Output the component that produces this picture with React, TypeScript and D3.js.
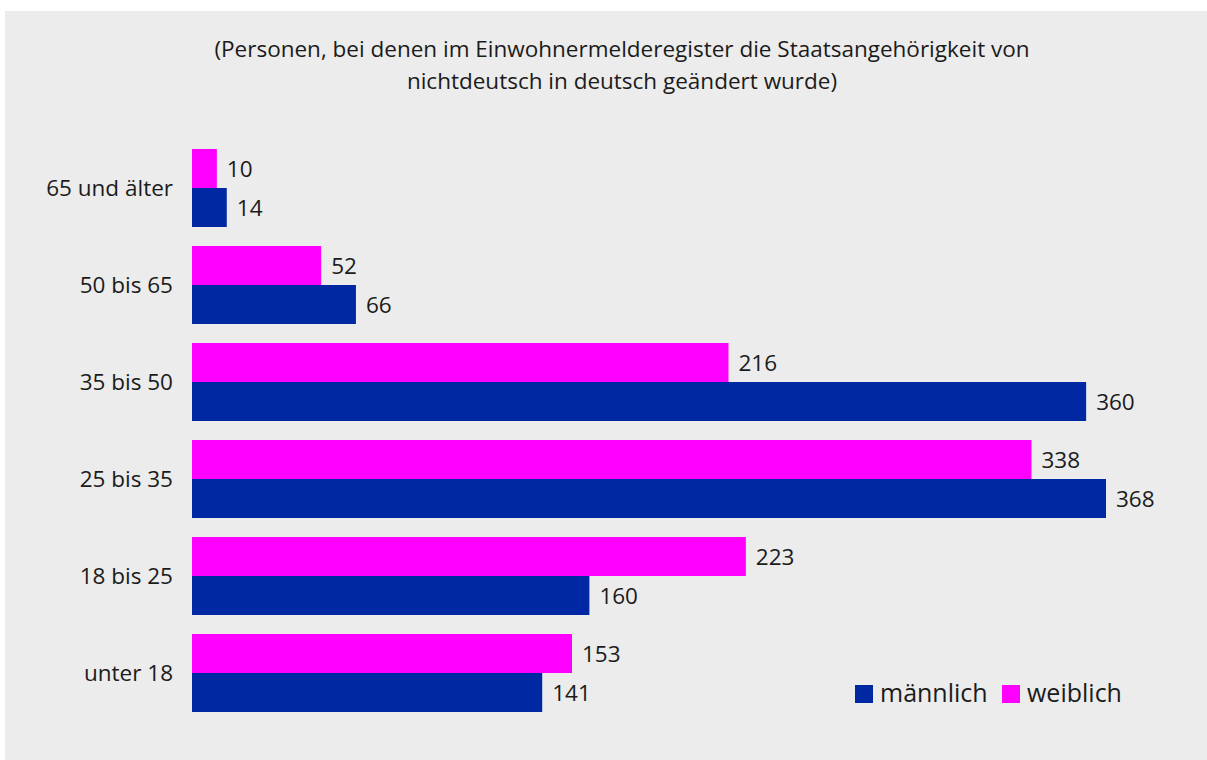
import React from "react";
import * as d3 from "d3";

const categories = ["65 und älter", "50 bis 65", "35 bis 50", "25 bis 35", "18 bis 25", "unter 18"];
const weiblich = [10, 52, 216, 338, 223, 153];
const maennlich = [14, 66, 360, 368, 160, 141];
const titleLines = [
  "(Personen, bei denen im Einwohnermelderegister die Staatsangehörigkeit von",
  "nichtdeutsch in deutsch geändert wurde)",
];
const legendItems = [
  { label: "männlich", color: "#0028a3" },
  { label: "weiblich", color: "#ff00ff" },
];

const W = 1207;
const H = 760;
const FONT = "'Open Sans', sans-serif";
const TEXT = "#1b1b1b";
const FS = 22.5;

export default function App() {
  const x = d3.scaleLinear().domain([0, 368]).range([192, 1106]);
  const y = d3
    .scaleBand<string>()
    .domain(categories)
    .range([139.5, 721.5])
    .paddingInner(0.196)
    .paddingOuter(0.098);
  const bh = y.bandwidth() / 2;

  return (
    <svg
      width={W}
      height={H}
      style={{ position: "absolute", left: 0, top: 0, fontFamily: FONT }}
    >
      <rect x={0} y={0} width={W} height={H} fill="#ffffff" />
      <rect x={5} y={11} width={W - 5} height={H - 11} fill="#ebeceb" />
      {titleLines.map((t, i) => (
        <text
          key={i}
          x={622}
          y={57 + i * 32}
          textAnchor="middle"
          fontSize={FS}
          fill={TEXT}
        >
          {t}
        </text>
      ))}
      {categories.map((c, i) => {
        const y0 = y(c)!;
        return (
          <g key={c}>
            <text
              x={173}
              y={y0 + bh}
              dy="0.35em"
              textAnchor="end"
              fontSize={FS}
              fill={TEXT}
            >
              {c}
            </text>
            <rect x={x(0)} y={y0} width={x(weiblich[i]) - x(0)} height={bh} fill="#ff00ff" />
            <rect x={x(0)} y={y0 + bh} width={x(maennlich[i]) - x(0)} height={bh} fill="#0028a3" />
            <text x={x(weiblich[i]) + 10} y={y0 + bh / 2} dy="0.36em" fontSize={FS} fill={TEXT}>
              {weiblich[i]}
            </text>
            <text x={x(maennlich[i]) + 10} y={y0 + bh * 1.5} dy="0.36em" fontSize={FS} fill={TEXT}>
              {maennlich[i]}
            </text>
          </g>
        );
      })}
      {legendItems.map((l, i) => {
        const lx = i === 0 ? 855 : 1002;
        return (
          <g key={l.label}>
            <rect x={lx} y={685} width={18} height={18} fill={l.color} />
            <text x={lx + 25} y={702} fontSize={25} fill={TEXT}>
              {l.label}
            </text>
          </g>
        );
      })}
    </svg>
  );
}
